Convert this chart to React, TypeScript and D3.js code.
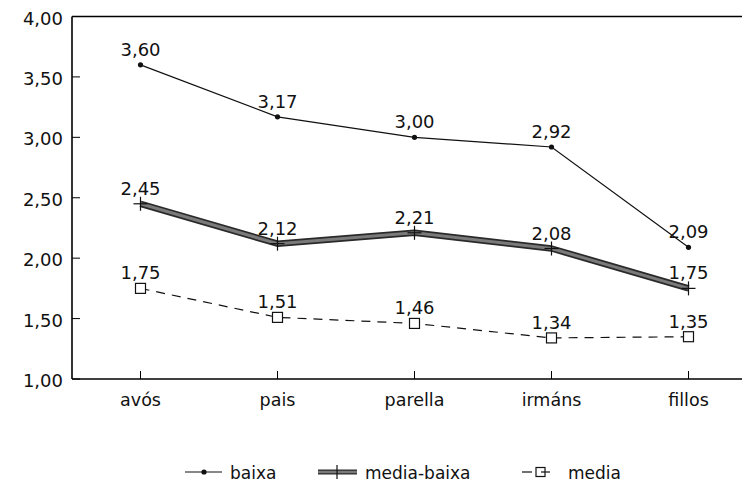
import React from "react";
import * as d3 from "d3";

const categories = ["avós", "pais", "parella", "irmáns", "fillos"];
const baixa = [3.6, 3.17, 3.0, 2.92, 2.09];
const mediaBaixa = [2.45, 2.12, 2.21, 2.08, 1.75];
const media = [1.75, 1.51, 1.46, 1.34, 1.35];
const yTicks = [1.0, 1.5, 2.0, 2.5, 3.0, 3.5, 4.0];
const seriesNames = ["baixa", "media-baixa", "media"];

const W = 742;
const H = 484;
const left = 72;
const top = 16.5;
const bottom = 379;
const FONT = "'DejaVu Sans', Verdana, sans-serif";

const fmt = (v: number) => v.toFixed(2).replace(".", ",");

export default function App() {
  const x = d3.scalePoint<string>().domain(categories).range([140.5, 688.5]);
  const y = d3.scaleLinear().domain([1, 4]).range([bottom, top]);
  const line = d3
    .line<number>()
    .x((_, i) => x(categories[i]) as number)
    .y((d) => y(d));

  const ly = 472;

  return (
    <svg
      width={W}
      height={H}
      style={{ position: "absolute", left: 0, top: 0, background: "#fff" }}
      fontFamily={FONT}
    >
      {/* axes */}
      <line x1={left} x2={left} y1={top} y2={bottom} stroke="#000" strokeWidth={1.6} />
      <line x1={left} x2={W} y1={bottom} y2={bottom} stroke="#000" strokeWidth={1.6} />
      <line x1={left} x2={W} y1={top} y2={top} stroke="#000" strokeWidth={1.4} />
      {yTicks.map((t) => (
        <g key={t}>
          <line x1={left} x2={left + 8} y1={y(t)} y2={y(t)} stroke="#000" strokeWidth={1} />
          <text x={63} y={y(t) + 8} textAnchor="end" fontSize={18} fill="#111">
            {fmt(t)}
          </text>
        </g>
      ))}
      {categories.map((c) => (
        <g key={c}>
          <line x1={x(c)} x2={x(c)} y1={bottom} y2={bottom - 8} stroke="#000" strokeWidth={1} />
          <text x={x(c)} y={406} textAnchor="middle" fontSize={17.5} fill="#111">
            {c}
          </text>
        </g>
      ))}

      {/* baixa */}
      <path d={line(baixa) || ""} fill="none" stroke="#111" strokeWidth={1.2} />
      {baixa.map((v, i) => (
        <g key={"b" + i}>
          <circle cx={x(categories[i])} cy={y(v)} r={2.6} fill="#111" />
          <text x={x(categories[i])} y={y(v) - 9} textAnchor="middle" fontSize={18} fill="#111">
            {fmt(v)}
          </text>
        </g>
      ))}

      {/* media-baixa */}
      <path d={line(mediaBaixa) || ""} fill="none" stroke="#2a2a2a" strokeWidth={6.5} strokeLinejoin="round" />
      <path d={line(mediaBaixa) || ""} fill="none" stroke="#7a7a7a" strokeWidth={3} strokeLinejoin="round" />
      {mediaBaixa.map((v, i) => {
        const cx = x(categories[i]) as number;
        const cy = y(v);
        return (
          <g key={"m" + i}>
            <line x1={cx - 7} x2={cx + 7} y1={cy} y2={cy} stroke="#111" strokeWidth={1.2} />
            <line x1={cx} x2={cx} y1={cy - 7} y2={cy + 7} stroke="#111" strokeWidth={1.2} />
            <text x={cx} y={cy - 9} textAnchor="middle" fontSize={18} fill="#111">
              {fmt(v)}
            </text>
          </g>
        );
      })}

      {/* media */}
      <path d={line(media) || ""} fill="none" stroke="#111" strokeWidth={1.2} strokeDasharray="9,7" />
      {media.map((v, i) => {
        const cx = x(categories[i]) as number;
        const cy = y(v);
        return (
          <g key={"d" + i}>
            <rect x={cx - 5} y={cy - 5} width={10} height={10} fill="#fff" stroke="#111" strokeWidth={1.2} />
            <text x={cx} y={cy - 9} textAnchor="middle" fontSize={18} fill="#111">
              {fmt(v)}
            </text>
          </g>
        );
      })}

      {/* legend */}
      <g fontSize={17} fill="#111">
        <line x1={185} x2={222} y1={ly} y2={ly} stroke="#111" strokeWidth={1.2} />
        <circle cx={204} cy={ly} r={2.6} fill="#111" />
        <text x={230} y={ly + 7}>{seriesNames[0]}</text>

        <line x1={318} x2={357} y1={ly} y2={ly} stroke="#2a2a2a" strokeWidth={5} />
        <line x1={318} x2={357} y1={ly} y2={ly} stroke="#7a7a7a" strokeWidth={2.5} />
        <line x1={337} x2={337} y1={ly - 7} y2={ly + 7} stroke="#111" strokeWidth={1.2} />
        <text x={365} y={ly + 7}>{seriesNames[1]}</text>

        <line x1={522} x2={532} y1={ly} y2={ly} stroke="#111" strokeWidth={1.2} />
        <rect x={536} y={ly - 4.5} width={9} height={9} fill="#fff" stroke="#111" strokeWidth={1.2} />
        <line x1={541} x2={550} y1={ly} y2={ly} stroke="#111" strokeWidth={1.2} />
        <text x={568} y={ly + 7}>{seriesNames[2]}</text>
      </g>
    </svg>
  );
}
